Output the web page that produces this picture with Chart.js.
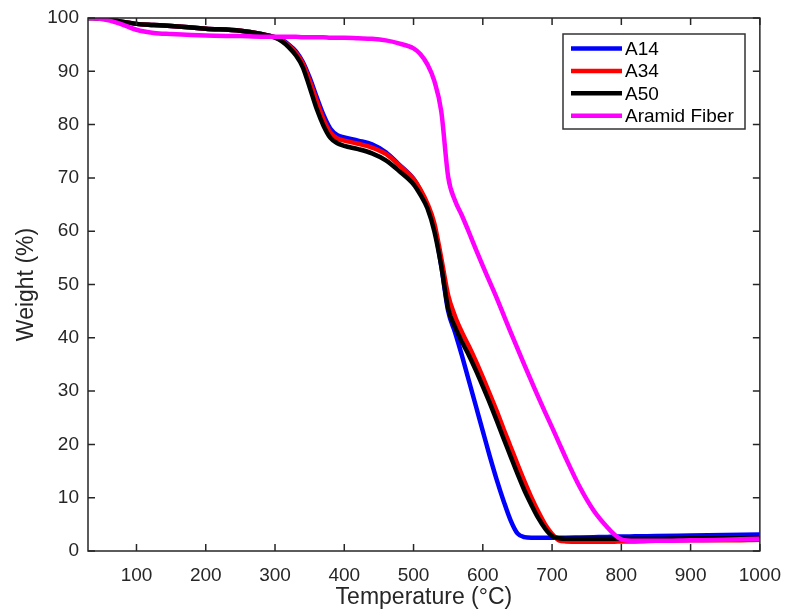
<!DOCTYPE html>
<html>
<head>
<meta charset="utf-8">
<script src="https://cdn.jsdelivr.net/npm/chart.js@4.4.1/dist/chart.umd.min.js"></script>
<style>
  html, body { margin: 0; padding: 0; background: #fff; }
</style>
</head>
<body>
<canvas id="tgaChart" width="786" height="609"></canvas>
<script>
var temps = [30, 50, 75, 100, 125, 150, 200, 250, 280, 300,
  310, 320, 330, 340, 350, 360, 370, 380, 390, 400,
  420, 440, 460, 480, 500,
  510, 520, 530, 540, 550, 560, 570, 580, 590, 600, 610, 620, 630, 640, 650, 660, 670, 680, 690, 700, 710, 720,
  740, 760, 780, 790, 800,
  820, 850, 900, 950, 1000];

var a14 = [100, 99.9, 99.4, 98.9, 98.7, 98.5, 98.0, 97.6, 97.0, 96.4,
  95.9, 95.0, 93.8, 91.8, 88.8, 85.2, 81.8, 79.2, 78.0, 77.6,
  77.0, 76.3, 74.8, 72.4, 69.8,
  67.6, 64.8, 60.8, 53.5, 45.0, 41.0, 36.6, 31.9, 27.2, 22.5, 17.8, 13.4, 9.4, 5.8, 3.3, 2.6, 2.5, 2.5, 2.5, 2.5, 2.5, 2.5,
  2.55, 2.6, 2.65, 2.7, 2.7,
  2.75, 2.8, 2.9, 3.0, 3.1];

var a34 = [100, 99.9, 99.4, 98.9, 98.7, 98.5, 98.0, 97.6, 97.0, 96.4,
  95.8, 94.8, 93.5, 91.5, 88.2, 84.5, 81.0, 78.5, 77.4, 77.0,
  76.4, 75.7, 74.5, 72.3, 69.8,
  67.8, 65.2, 61.5, 55.0, 48.0, 44.0, 41.0, 38.4, 35.6, 32.6, 29.5, 26.3, 22.9, 19.6, 16.3, 13.1, 10.1, 7.4, 5.0, 3.2, 2.0, 1.8,
  1.75, 1.75, 1.75, 1.75, 1.8,
  1.8, 1.9, 2.0, 2.0, 2.1];

var a50 = [100, 99.9, 99.4, 98.9, 98.7, 98.5, 98.0, 97.6, 97.0, 96.3,
  95.6, 94.5, 93.0, 90.8, 87.0, 83.0, 79.8, 77.5, 76.5, 76.0,
  75.4, 74.6, 73.3, 71.2, 68.8,
  66.8, 64.3, 60.0, 53.5, 45.5, 42.0, 39.2, 36.7, 33.9, 30.9, 27.8, 24.5, 21.1, 17.8, 14.5, 11.4, 8.7, 6.2, 4.2, 2.8, 2.4, 2.3,
  2.3, 2.3, 2.3, 2.3, 2.3,
  2.3, 2.3, 2.4, 2.4, 2.5];

var aramid = [100, 99.8, 99.0, 97.8, 97.2, 97.0, 96.7, 96.6, 96.5, 96.5,
  96.5, 96.5, 96.5, 96.4, 96.4, 96.4, 96.4, 96.3, 96.3, 96.3,
  96.2, 96.1, 95.8, 95.2, 94.3,
  93.2, 91.3, 88.2, 82.5, 70.2, 65.7, 62.9, 59.8, 56.6, 53.5, 50.5, 47.5, 44.3, 41.1, 38.0, 34.9, 31.9, 28.9, 26.0, 23.2, 20.3, 17.4,
  12.0, 7.6, 4.4, 3.1, 2.2,
  1.9, 1.9, 2.0, 2.1, 2.3];

var xTicks = [100, 200, 300, 400, 500, 600, 700, 800, 900, 1000];
var yTicks = [0, 10, 20, 30, 40, 50, 60, 70, 80, 90, 100];

var FONT = "'Liberation Sans', Arial, Helvetica, sans-serif";
var INK = '#262626';
var TICK_LEN = 7;

function pts(values) {
  return temps.map(function (t, i) { return { x: t, y: values[i] }; });
}

function series(label, values, color, order) {
  return {
    label: label,
    data: pts(values),
    borderColor: color,
    backgroundColor: color,
    borderWidth: 4.5,
    pointRadius: 0,
    fill: false,
    cubicInterpolationMode: 'monotone',
    order: order
  };
}

// box round the plot with inward ticks, plus the boxed legend
var framePlugin = {
  id: 'frame',
  afterDatasetsDraw: function (chart) {
    var ctx = chart.ctx;
    var a = chart.chartArea;
    var xs = chart.scales.x;
    var ys = chart.scales.y;
    ctx.save();
    ctx.strokeStyle = INK;
    ctx.lineWidth = 1.5;
    ctx.strokeRect(a.left, a.top, a.right - a.left, a.bottom - a.top);
    ctx.beginPath();
    xs.ticks.forEach(function (t) {
      var px = xs.getPixelForValue(t.value);
      ctx.moveTo(px, a.bottom); ctx.lineTo(px, a.bottom - TICK_LEN);
      ctx.moveTo(px, a.top); ctx.lineTo(px, a.top + TICK_LEN);
    });
    ys.ticks.forEach(function (t) {
      var py = ys.getPixelForValue(t.value);
      ctx.moveTo(a.left, py); ctx.lineTo(a.left + TICK_LEN, py);
      ctx.moveTo(a.right, py); ctx.lineTo(a.right - TICK_LEN, py);
    });
    ctx.stroke();

    // legend
    var bx = 563, by = 34, bw = 182, bh = 95;
    ctx.fillStyle = '#fff';
    ctx.fillRect(bx, by, bw, bh);
    ctx.strokeStyle = '#333';
    ctx.lineWidth = 1.5;
    ctx.strokeRect(bx, by, bw, bh);
    ctx.font = '19px ' + FONT;
    ctx.textBaseline = 'middle';
    ctx.textAlign = 'left';
    chart.data.datasets.forEach(function (ds, i) {
      var ry = by + 14.5 + i * 22.4;
      ctx.strokeStyle = ds.borderColor;
      ctx.lineWidth = 4.5;
      ctx.beginPath();
      ctx.moveTo(bx + 8, ry);
      ctx.lineTo(bx + 59, ry);
      ctx.stroke();
      ctx.fillStyle = '#000';
      ctx.fillText(ds.label, bx + 62, ry + 1);
    });
    ctx.restore();
  }
};

new Chart(document.getElementById('tgaChart'), {
  type: 'line',
  data: {
    datasets: [
      series('A14', a14, '#0000ff', 4),
      series('A34', a34, '#ff0000', 3),
      series('A50', a50, '#000000', 2),
      series('Aramid Fiber', aramid, '#ff00ff', 1)
    ]
  },
  options: {
    responsive: false,
    animation: false,
    layout: { padding: { top: 18, right: 23, left: 0, bottom: 0 } },
    plugins: {
      legend: { display: false },
      tooltip: { enabled: false }
    },
    scales: {
      x: {
        type: 'linear',
        min: 30,
        max: 1000,
        grid: { display: false },
        border: { display: false },
        afterBuildTicks: function (scale) {
          scale.ticks = xTicks.map(function (v) { return { value: v }; });
        },
        afterFit: function (scale) { scale.height = 58; },
        ticks: {
          color: INK,
          padding: 5,
          maxRotation: 0,
          font: { family: FONT, size: 19 },
          callback: function (value) { return String(value); }
        },
        title: {
          display: true,
          text: 'Temperature (°C)',
          color: INK,
          padding: { top: 0, bottom: -2 },
          font: { family: FONT, size: 23 }
        }
      },
      y: {
        min: 0,
        max: 100,
        grid: { display: false },
        border: { display: false },
        afterBuildTicks: function (scale) {
          scale.ticks = yTicks.map(function (v) { return { value: v }; });
        },
        afterFit: function (scale) { scale.width = 88; },
        ticks: {
          color: INK,
          padding: 1,
          font: { family: FONT, size: 19 }
        },
        title: {
          display: true,
          text: 'Weight (%)',
          color: INK,
          padding: { top: 13, bottom: 0 },
          font: { family: FONT, size: 23 }
        }
      }
    }
  },
  plugins: [framePlugin]
});
</script>
</body>
</html>
